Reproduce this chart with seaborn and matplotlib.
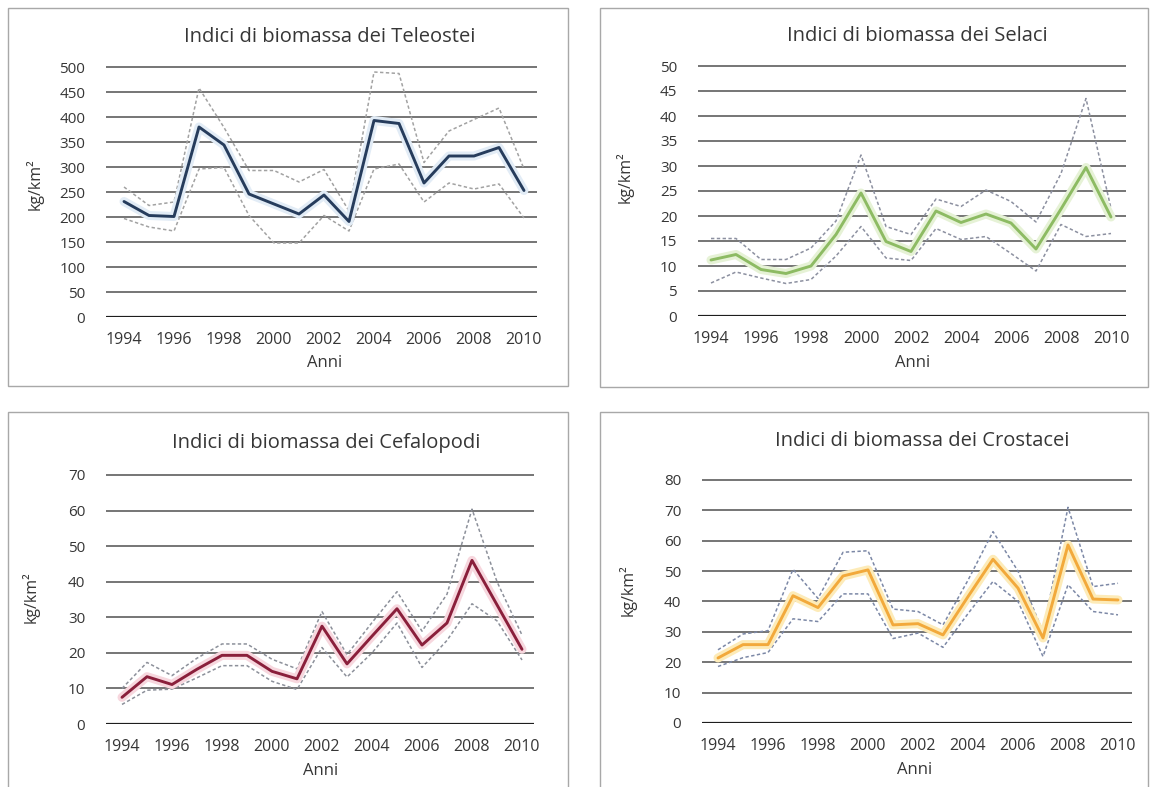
import numpy as np
import pandas as pd
import matplotlib
matplotlib.use("Agg")
import matplotlib.pyplot as plt
import matplotlib.patheffects as pe
from matplotlib.patches import Rectangle
import seaborn as sns

sns.set_theme(style="white")
plt.rcParams["font.family"] = ["Open Sans", "DejaVu Sans"]

years = list(range(1994, 2011))
tick_years = list(range(1994, 2011, 2))

# Biomass indices (kg/km2): central estimate with upper and lower bounds
teleostei = [231, 203, 201, 380, 344, 246, 226, 206, 244, 191, 393, 387, 268, 322, 322, 339, 253]
teleostei_hi = [260, 223, 230, 458, 379, 293, 293, 270, 295, 212, 490, 487, 309, 372, 395, 418, 296]
teleostei_lo = [197, 180, 172, 296, 299, 203, 148, 148, 203, 172, 296, 306, 230, 268, 256, 266, 198]

selaci = [11.2, 12.3, 9.3, 8.5, 10.0, 16.3, 24.6, 14.9, 12.9, 21.0, 18.7, 20.4, 18.6, 13.4, 21.4, 29.7, 19.8]
selaci_hi = [15.5, 15.5, 11.3, 11.3, 13.6, 19.0, 32.2, 17.9, 16.3, 23.4, 21.9, 25.2, 22.9, 18.8, 28.5, 43.5, 21.5]
selaci_lo = [6.6, 8.8, 7.6, 6.5, 7.3, 12.0, 17.9, 11.6, 11.1, 17.5, 15.3, 15.9, 12.5, 9.0, 18.3, 15.9, 16.5]

cefalopodi = [7.5, 13.3, 11.1, 15.4, 19.3, 19.3, 14.8, 12.7, 27.5, 16.9, 24.7, 32.4, 22.2, 28.4, 46.0, 33.5, 21.0]
cefalopodi_hi = [10.0, 17.3, 13.6, 18.5, 22.5, 22.5, 18.2, 15.5, 31.6, 19.5, 28.5, 37.2, 26.1, 36.5, 60.4, 40.0, 25.0]
cefalopodi_lo = [5.5, 9.5, 9.8, 13.0, 16.4, 16.4, 12.0, 9.7, 21.5, 13.2, 20.0, 28.4, 15.9, 23.5, 33.8, 29.0, 18.0]

crostacei = [21.4, 25.8, 25.8, 41.9, 38.0, 48.4, 50.4, 32.3, 32.7, 29.0, 41.6, 53.9, 44.4, 28.0, 58.6, 40.8, 40.5]
crostacei_hi = [24.1, 29.3, 30.4, 50.6, 41.0, 56.2, 56.7, 37.5, 36.7, 32.3, 47.0, 63.0, 50.0, 30.0, 71.0, 44.9, 46.0]
crostacei_lo = [18.6, 21.5, 23.2, 34.3, 33.4, 42.5, 42.5, 27.8, 29.6, 24.9, 36.0, 46.6, 40.0, 21.9, 45.5, 36.7, 35.6]

titles = [
    "Indici di biomassa dei Teleostei",
    "Indici di biomassa dei Selaci",
    "Indici di biomassa dei Cefalopodi",
    "Indici di biomassa dei Crostacei",
]

W, H = 1151, 787
fig = plt.figure(figsize=(W / 100, H / 100), dpi=100)
fig.patch.set_facecolor("white")


def px_axes(x0, y0, x1, y1):
    return fig.add_axes([x0 / W, (H - y1) / H, (x1 - x0) / W, (y1 - y0) / H])


def panel_box(x0, y0, x1, y1):
    fig.patches.append(Rectangle((x0 / W, (H - y1) / H), (x1 - x0) / W, (y1 - y0) / H,
                                 transform=fig.transFigure, fill=False,
                                 edgecolor="#a8a8a8", linewidth=1.0, zorder=0))


panel_box(8, 8, 568, 386)
panel_box(600, 8, 1148, 387)
panel_box(8, 412, 568, 790)
panel_box(600, 412, 1148, 790)

panels = [
    dict(rect=(106, 66, 537, 317), xlim=(1993.28, 2010.52), ymax=500, step=50,
         mid=teleostei, hi=teleostei_hi, lo=teleostei_lo,
         color="#263c5c", halo="#e2ecf6", dash="#a2a2a2",
         title=(0.52, 1.116), ylab=(-0.144, 0.53), xlab=(0.508, -0.151)),
    dict(rect=(698, 65, 1126, 316), xlim=(1993.48, 2010.6), ymax=50, step=5,
         mid=selaci, hi=selaci_hi, lo=selaci_lo,
         color="#8dbb63", halo="#e6f2d6", dash="#8c90a0",
         title=(0.512, 1.116), ylab=(-0.15, 0.554), xlab=(0.502, -0.155)),
    dict(rect=(106, 474, 534, 724), xlim=(1993.36, 2010.48), ymax=70, step=10,
         mid=cefalopodi, hi=cefalopodi_hi, lo=cefalopodi_lo,
         color="#8a1f3b", halo="#f7d7de", dash="#8c909a",
         title=(0.514, 1.124), ylab=(-0.154, 0.508), xlab=(0.502, -0.156)),
    dict(rect=(702, 479, 1132, 723), xlim=(1993.36, 2010.56), ymax=80, step=10,
         mid=crostacei, hi=crostacei_hi, lo=crostacei_lo,
         color="#f2a93b", halo="#fdebb8", dash="#7c88a6",
         title=(0.512, 1.156), ylab=(-0.151, 0.545), xlab=(0.495, -0.16)),
]

text_color = "#363636"

for p, title in zip(panels, titles):
    ax = px_axes(*p["rect"])
    ax.set_facecolor("white")
    for s in ax.spines.values():
        s.set_visible(False)

    yt = np.arange(0, p["ymax"] + p["step"] / 2, p["step"])
    for v in yt[1:]:
        ax.axhline(v, color="#6a6a6a", linewidth=1.3, zorder=1)
    ax.axhline(0, color="#1e1e1e", linewidth=2.3, zorder=1)

    for band in (p["hi"], p["lo"]):
        sns.lineplot(x=years, y=band, ax=ax, color=p["dash"], linewidth=1.1,
                     linestyle=(0, (2.2, 1.6)), zorder=2)
    sns.lineplot(x=years, y=p["mid"], ax=ax, color=p["color"], linewidth=2.1, zorder=3,
                 path_effects=[pe.Stroke(linewidth=6.5, foreground=p["halo"]), pe.Normal()])

    ax.set_xlim(*p["xlim"])
    ax.set_ylim(0, p["ymax"] * 1.004)
    ax.set_yticks(yt)
    ax.set_yticklabels([f"{int(v)}" for v in yt])
    ax.set_xticks(tick_years)
    ax.set_xticklabels([str(y) for y in tick_years])
    ax.tick_params(axis="both", length=0, colors=text_color)
    ax.tick_params(axis="y", pad=15, labelsize=11)
    ax.tick_params(axis="x", pad=11, labelsize=11.5)

    ax.set_xlabel("Anni", fontsize=12, color=text_color)
    ax.xaxis.set_label_coords(*p["xlab"])
    ax.set_ylabel("kg/km²", fontsize=11.5, color=text_color)
    ax.yaxis.set_label_coords(*p["ylab"])
    ax.text(p["title"][0], p["title"][1], title, transform=ax.transAxes,
            ha="center", va="center", fontsize=14.5, color=text_color)

fig.savefig("out.png", dpi=100, facecolor="white")
